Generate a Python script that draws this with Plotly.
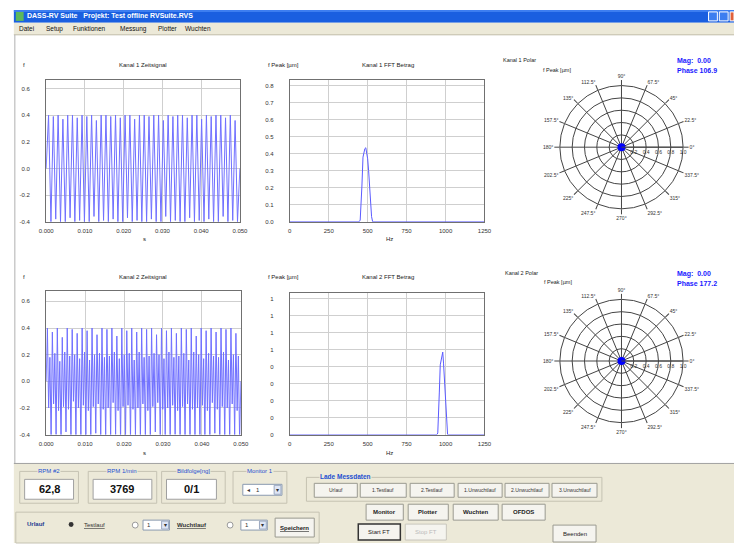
import plotly.graph_objects as go

W, H = 742, 546
def X(p): return p / W
def Y(p): return 1 - p / H

# ---------------- data ----------------
time_ticks = [0.0, 0.01, 0.02, 0.03, 0.04, 0.05]
time_tick_labels = ["0.000", "0.010", "0.020", "0.030", "0.040", "0.050"]
amp_ticks = [-0.4, -0.2, 0.0, 0.2, 0.4, 0.6]
amp_tick_labels = ["-0.4", "-0.2", "0.0", "0.2", "0.4", "0.6"]

freq_ticks = [0, 250, 500, 750, 1000, 1250]
freq_tick_labels = ["0", "250", "500", "750", "1000", "1250"]
fft1_y_ticks = [0.0, 0.1, 0.2, 0.3, 0.4, 0.5, 0.6, 0.7, 0.8]
fft1_y_labels = ["0.0", "0.1", "0.2", "0.3", "0.4", "0.5", "0.6", "0.7", "0.8"]
fft2_y_ticks = [0.0, 0.1, 0.2, 0.3, 0.4, 0.5, 0.6, 0.7, 0.8]
fft2_y_labels = ["0", "0", "0", "0", "0", "1", "1", "1", "1"]

# Kanal 1 time signal: successive extremes (peak, trough, ...)
k1_peaks = [0.40, 0.39, 0.40, 0.37, 0.40, 0.40, 0.38, 0.40, 0.39, 0.40,
            0.36, 0.40, 0.40, 0.39, 0.40, 0.38, 0.40, 0.40, 0.37, 0.40,
            0.40, 0.39, 0.40, 0.40, 0.36, 0.40, 0.39, 0.40, 0.40, 0.38,
            0.40, 0.40, 0.37, 0.40, 0.39, 0.40, 0.40, 0.38, 0.40, 0.36]
k1_troughs = [-0.40, -0.38, -0.40, -0.40, -0.37, -0.40, -0.39, -0.40, -0.40, -0.36,
              -0.40, -0.39, -0.40, -0.38, -0.40, -0.40, -0.37, -0.40, -0.39, -0.40,
              -0.40, -0.38, -0.40, -0.40, -0.36, -0.40, -0.39, -0.40, -0.40, -0.37,
              -0.40, -0.39, -0.40, -0.38, -0.40, -0.40, -0.36, -0.40, -0.39, -0.40]

# Kanal 2 time signal: successive extremes
k2_extremes = [
    0.40, -0.20, 0.18, -0.44,  0.37, -0.17, 0.21, -0.40,  0.40, -0.22, 0.15, -0.45,
    0.33, -0.19, 0.22, -0.38,  0.40, -0.21, 0.19, -0.44,  0.39, -0.15, 0.20, -0.42,
    0.36, -0.20, 0.17, -0.45,  0.40, -0.18, 0.22, -0.41,  0.38, -0.22, 0.16, -0.44,
    0.40, -0.19, 0.20, -0.39,  0.35, -0.17, 0.21, -0.45,  0.40, -0.21, 0.18, -0.43,
    0.39, -0.20, 0.19, -0.44,  0.40, -0.16, 0.22, -0.40,  0.34, -0.22, 0.17, -0.45,
    0.40, -0.19, 0.20, -0.42,  0.38, -0.18, 0.21, -0.44,  0.40, -0.21, 0.16, -0.41,
    0.37, -0.20, 0.22, -0.45,  0.40, -0.17, 0.18, -0.43,  0.39, -0.22, 0.19, -0.44,
    0.40, -0.19, 0.21, -0.38,  0.35, -0.16, 0.20, -0.45,  0.40, -0.21, 0.17, -0.42,
    0.38, -0.20, 0.22, -0.44,  0.40, -0.18, 0.18, -0.40,  0.36, -0.22, 0.19, -0.45,
    0.40, -0.19, 0.21, -0.43,  0.39, -0.17, 0.16, -0.44,  0.40, -0.21, 0.22, -0.41,
    0.34, -0.20, 0.20, -0.45,  0.40, -0.18, 0.17, -0.42,  0.38, -0.22, 0.21, -0.44,
    0.40, -0.16, 0.19, -0.39,  0.37, -0.21, 0.18, -0.45,  0.40, -0.19, 0.22, -0.43,
    0.39, -0.20, 0.16, -0.44,  0.40, -0.17, 0.20, -0.41,  0.36, -0.22, 0.19, -0.45,
]
signal_duration = 0.05

# FFT spectra
k1_freq = [0, 445, 452, 458, 463, 470, 476, 482, 488, 494, 500, 506, 512, 518, 525, 532, 1250]
k1_amp = [0, 0, 0.01, 0.19, 0.21, 0.38, 0.42, 0.43, 0.435, 0.40, 0.37, 0.30, 0.20, 0.09, 0.03, 0, 0]
k2_freq = [0, 945, 950, 955, 960, 966, 972, 978, 982, 987, 992, 998, 1003, 1008, 1013, 1250]
k2_amp = [0, 0, 0.01, 0.19, 0.25, 0.41, 0.44, 0.47, 0.485, 0.42, 0.33, 0.22, 0.10, 0.04, 0, 0]

# Polar values
k1_mag, k1_phase = 0.00, 106.9
k2_mag, k2_phase = 0.00, 177.2
radial_ticks = [0.2, 0.4, 0.6, 0.8, 1.0]
radial_labels = ["0.2", "0.4", "0.6", "0.8", "1.0"]

menu_items = ["Datei", "Setup", "Funktionen", "Messung", "Plotter", "Wuchten"]
lade_buttons = ["Urlauf", "1.Testlauf", "2.Testlauf", "1.Unwuchtlauf", "2.Unwuchtlauf", "3.Unwuchtlauf"]
main_buttons = ["Monitor", "Plotter", "Wuchten", "OFDOS"]
rpm_labels = ["RPM #2", "RPM 1/min", "Bildfolge[ng]"]
rpm_values = ["62,8", "3769", "0/1"]

# ---------------- build signals ----------------
k1_vals = [0.0]
for p, t in zip(k1_peaks, k1_troughs):
    k1_vals += [p, t]
k1_vals.append(0.0)
n1 = len(k1_vals) - 1
k1_t = [signal_duration * i / n1 for i in range(len(k1_vals))]

k2_vals = [0.0] + k2_extremes + [0.0]
n2 = len(k2_vals) - 1
k2_t = [signal_duration * i / n2 for i in range(len(k2_vals))]

FONT = "Liberation Sans"
BLUE = "#7070ff"

fig = go.Figure()
fig.add_trace(go.Scatter(x=k1_t, y=k1_vals, mode="lines", line=dict(color=BLUE, width=1),
                         xaxis="x", yaxis="y", hoverinfo="skip"))
fig.add_trace(go.Scatter(x=k1_freq, y=k1_amp, mode="lines", line=dict(color="#5a5aff", width=1),
                         xaxis="x2", yaxis="y2", hoverinfo="skip"))
fig.add_trace(go.Scatter(x=k2_t, y=k2_vals, mode="lines", line=dict(color=BLUE, width=1),
                         xaxis="x3", yaxis="y3", hoverinfo="skip"))
fig.add_trace(go.Scatter(x=k2_freq, y=k2_amp, mode="lines", line=dict(color="#5a5aff", width=1),
                         xaxis="x4", yaxis="y4", hoverinfo="skip"))
fig.add_trace(go.Scatterpolar(r=[k1_mag], theta=[k1_phase], mode="markers",
                              marker=dict(color="#0000ff", size=8), subplot="polar"))
fig.add_trace(go.Scatterpolar(r=[k2_mag], theta=[k2_phase], mode="markers",
                              marker=dict(color="#0000ff", size=8), subplot="polar2"))

def xax(l, r, rng, tv, tt, anchor):
    return dict(domain=[X(l), X(r)], range=rng, tickvals=tv, ticktext=tt, anchor=anchor,
                showline=True, mirror=True, linecolor="#707070", linewidth=1,
                showgrid=True, gridcolor="#cfcfcf", gridwidth=1, zeroline=False,
                ticks="", tickfont=dict(size=6, color="#333", family=FONT), ticklabelstandoff=3,
                fixedrange=True)

def yax(t, b, rng, tv, tt, anchor):
    return dict(domain=[Y(b), Y(t)], range=rng, tickvals=tv, ticktext=tt, anchor=anchor,
                showline=True, mirror=True, linecolor="#707070", linewidth=1,
                showgrid=True, gridcolor="#cfcfcf", gridwidth=1, zeroline=False,
                ticks="", tickfont=dict(size=6, color="#333", family=FONT), ticklabelstandoff=14,
                fixedrange=True)

def polar_layout(cx, cy, R):
    return dict(
        domain=dict(x=[X(cx - R), X(cx + R)], y=[Y(cy + R), Y(cy - R)]),
        bgcolor="white",
        radialaxis=dict(range=[0, 1], tickvals=radial_ticks, ticktext=radial_labels, angle=0,
                        showline=True, linecolor="#444", linewidth=1, gridcolor="#444", gridwidth=1,
                        ticks="", tickfont=dict(size=5, color="#333", family=FONT)),
        angularaxis=dict(dtick=22.5, ticksuffix="°", direction="counterclockwise", rotation=0,
                         showline=True, linecolor="#444", linewidth=1, gridcolor="#444", gridwidth=1,
                         ticks="outside", ticklen=5, tickcolor="#444",
                         tickfont=dict(size=5, color="#333", family=FONT)),
    )

shapes = []
ann = []

def rect(x0, y0, x1, y1, fill=None, line=None, lw=1, layer="below"):
    shapes.append(dict(type="rect", xref="paper", yref="paper", x0=X(x0), x1=X(x1), y0=Y(y1), y1=Y(y0),
                       fillcolor=fill if fill else "rgba(0,0,0,0)",
                       line=dict(color=line if line else "rgba(0,0,0,0)", width=lw if line else 0),
                       layer=layer))

def hline(x0, x1, y, color, lw=1):
    shapes.append(dict(type="line", xref="paper", yref="paper", x0=X(x0), x1=X(x1), y0=Y(y), y1=Y(y),
                       line=dict(color=color, width=lw), layer="below"))

def vline(x, y0, y1, color, lw=1):
    shapes.append(dict(type="line", xref="paper", yref="paper", x0=X(x), x1=X(x), y0=Y(y0), y1=Y(y1),
                       line=dict(color=color, width=lw), layer="below"))

def txt(x, y, s, size=6, color="#222", anchor="center", bold=False, bg=None):
    ann.append(dict(x=X(x), y=Y(y), xref="paper", yref="paper", text=f"<b>{s}</b>" if bold else s,
                    showarrow=False, xanchor=anchor, yanchor="middle",
                    font=dict(size=size, color=color, family=FONT),
                    bgcolor=bg if bg else "rgba(0,0,0,0)", borderpad=0))

# ---- window chrome ----
rect(6, 10, 742, 23, fill="#1a5fe0")
rect(6, 10, 742, 12, fill="#3d7ef0")
rect(8, 12, 16, 21, fill="#5cb85c")
txt(18, 16.5, "DASS-RV Suite   Projekt: Test offline RVSuite.RVS", size=7, color="white", anchor="left", bold=True)
rect(716, 12, 725, 21, fill="#3d7ef0", line="#ffffff")
rect(727, 12, 736, 21, fill="#3d7ef0", line="#ffffff")
rect(738, 12, 742, 21, fill="#e0603a", line="#ffffff")
rect(6, 23, 742, 35, fill="#ece9d8")
hline(6, 742, 35, "#c0bca8")
menu_x = [10, 38, 65, 113, 152, 180]
for mx, m in zip(menu_x, menu_items):
    txt(mx, 29, m, size=6.5, color="#111", anchor="left")
vline(7, 35, 466, "#b0b0b0")

# ---- chart texts ----
for (yy, k) in [(65, "1"), (279, "2")]:
    txt(14, yy, "f", anchor="left")
    txt(138, yy, f"Kanal {k} Zeitsignal")
    txt(265, yy, "f Peak [µm]", anchor="left")
    txt(388, yy, f"Kanal {k} FFT Betrag")
txt(140, 240, "s")
txt(390, 240, "Hz")
txt(140, 455, "s")
txt(390, 455, "Hz")

txt(505, 60, "Kanal 1 Polar", anchor="left", size=5.5)
txt(546, 70, "f Peak [µm]", anchor="left", size=5.5)
txt(683, 61, f"Mag:&nbsp;&nbsp;{k1_mag:.2f}", anchor="left", size=7, color="#1a1aff", bold=True)
txt(683, 71, f"Phase {k1_phase:.1f}", anchor="left", size=7, color="#1a1aff", bold=True)
txt(507, 275, "Kanal 2 Polar", anchor="left", size=5.5)
txt(547, 284, "f Peak [µm]", anchor="left", size=5.5)
txt(683, 276, f"Mag:&nbsp;&nbsp;{k2_mag:.2f}", anchor="left", size=7, color="#1a1aff", bold=True)
txt(683, 285, f"Phase {k2_phase:.1f}", anchor="left", size=7, color="#1a1aff", bold=True)

# ---- bottom panel ----
rect(6, 466, 742, 546, fill="#ece9d8")
hline(6, 742, 466, "#a0a0a0")
GB = "#c5c2b2"
GL = "#1c4fd0"
grp = [(12, 72, 17, 67), (82, 152, 87, 147), (157, 222, 162, 213)]
for (g0, g1, b0, b1), lab, val in zip(grp, rpm_labels, rpm_values):
    rect(g0, 474, g1, 506, line=GB)
    txt((g0 + g1) / 2, 474, lab, size=6, color=GL, bg="#ece9d8")
    rect(b0, 482, b1, 502, fill="white", line="#a0a0a0")
    txt((b0 + b1) / 2, 492, val, size=11, color="#111", bold=True)
# Monitor group
rect(230, 474, 285, 506, line=GB)
txt(258, 474, "Monitor 1", size=6, color=GL, bg="#ece9d8")
rect(240, 487, 280, 498, fill="white", line="#8a9ab0")
txt(246, 492.5, "◂", size=6, color="#333")
txt(256, 492.5, "1", size=6, color="#333")
rect(272, 488, 279, 497, fill="#dfe6f5", line="#9aa8c0")
txt(275.5, 492.5, "▾", size=6, color="#333")
# Lade Messdaten group
rect(305, 480, 607, 504, line=GB)
txt(345, 479, "Lade Messdaten", size=6.5, color=GL, bold=True, bg="#ece9d8")
lb_x = [(313, 357), (360, 407), (411, 456), (460, 505), (508, 553), (556, 602)]
for (b0, b1), lab in zip(lb_x, lade_buttons):
    rect(b0, 486, b1, 500, fill="#f5f4ef", line="#9a9a90")
    txt((b0 + b1) / 2, 493, lab, size=5, color="#333")
mb_x = [(366, 404), (409, 450), (455, 501), (505, 549)]
for (b0, b1), lab in zip(mb_x, main_buttons):
    rect(b0, 507, b1, 523, fill="#f5f4ef", line="#9a9a90")
    txt((b0 + b1) / 2, 515, lab, size=6, color="#222", bold=True)
rect(358, 527, 401, 543, fill="#f5f4ef", line="#333333", lw=1.5)
txt(379.5, 535, "Start FT", size=6, color="#222")
rect(406, 527, 448, 543, fill="#f5f4ef", line="#c8c6bc")
txt(427, 535, "Stop FT", size=6, color="#bbb")
rect(557, 528, 601, 545, fill="#f5f4ef", line="#9a9a90")
txt(579, 536.5, "Beenden", size=6, color="#222")
# Urlauf group
rect(8, 515, 318, 546, line=GB)
txt(18, 527, "Urlauf", size=6, color="#1c3a90", anchor="left", bold=True)
shapes.append(dict(type="circle", xref="paper", yref="paper", x0=X(62), x1=X(67), y0=Y(530), y1=Y(525),
                   fillcolor="#333", line=dict(color="#333", width=0)))
txt(77, 528, "<u>Testlauf</u>", size=6, color="#333", anchor="left")
for cx, bx in [(130, 138), (227, 238)]:
    shapes.append(dict(type="circle", xref="paper", yref="paper", x0=X(cx - 3), x1=X(cx + 3), y0=Y(531), y1=Y(525),
                       fillcolor="white", line=dict(color="#999", width=1)))
    rect(bx, 523, bx + 27, 533, fill="white", line="#8a9ab0")
    txt(bx + 6, 528, "1", size=6, color="#333")
    rect(bx + 19, 524, bx + 26, 532, fill="#dfe6f5", line="#9aa8c0")
    txt(bx + 22.5, 528, "▾", size=6, color="#333")
txt(172, 528, "<u>Wuchtlauf</u>", size=6, color="#333", anchor="left", bold=True)
rect(273, 521, 313, 540, fill="#f5f4ef", line="#9a9a90")
txt(293, 530.5, "<u>Speichern</u>", size=6, color="#222", bold=True)

fig.update_layout(
    width=W, height=H, margin=dict(l=0, r=0, t=0, b=0),
    paper_bgcolor="white", plot_bgcolor="white", showlegend=False,
    xaxis=xax(39, 237, [0, 0.05], time_ticks, time_tick_labels, "y"),
    yaxis=yax(80, 223, [-0.4, 0.667], amp_ticks, amp_tick_labels, "x"),
    xaxis2=xax(288, 487, [0, 1250], freq_ticks, freq_tick_labels, "y2"),
    yaxis2=yax(80, 223, [0, 0.836], fft1_y_ticks, fft1_y_labels, "x2"),
    xaxis3=xax(39, 238, [0, 0.05], time_ticks, time_tick_labels, "y3"),
    yaxis3=yax(293, 437, [-0.4, 0.675], amp_ticks, amp_tick_labels, "x3"),
    xaxis4=xax(288, 487, [0, 1250], freq_ticks, freq_tick_labels, "y4"),
    yaxis4=yax(295, 437, [0, 0.83], fft2_y_ticks, fft2_y_labels, "x4"),
    polar=polar_layout(627, 148, 63),
    polar2=polar_layout(627, 363, 63),
    shapes=shapes, annotations=ann,
)

fig.write_html(
    "out.html", config={"displayModeBar": False},
    post_script=("document.documentElement.style.margin='0';document.documentElement.style.overflow='hidden';"
                 "document.body.style.margin='0';document.body.style.padding='0';document.body.style.overflow='hidden';"),
)
